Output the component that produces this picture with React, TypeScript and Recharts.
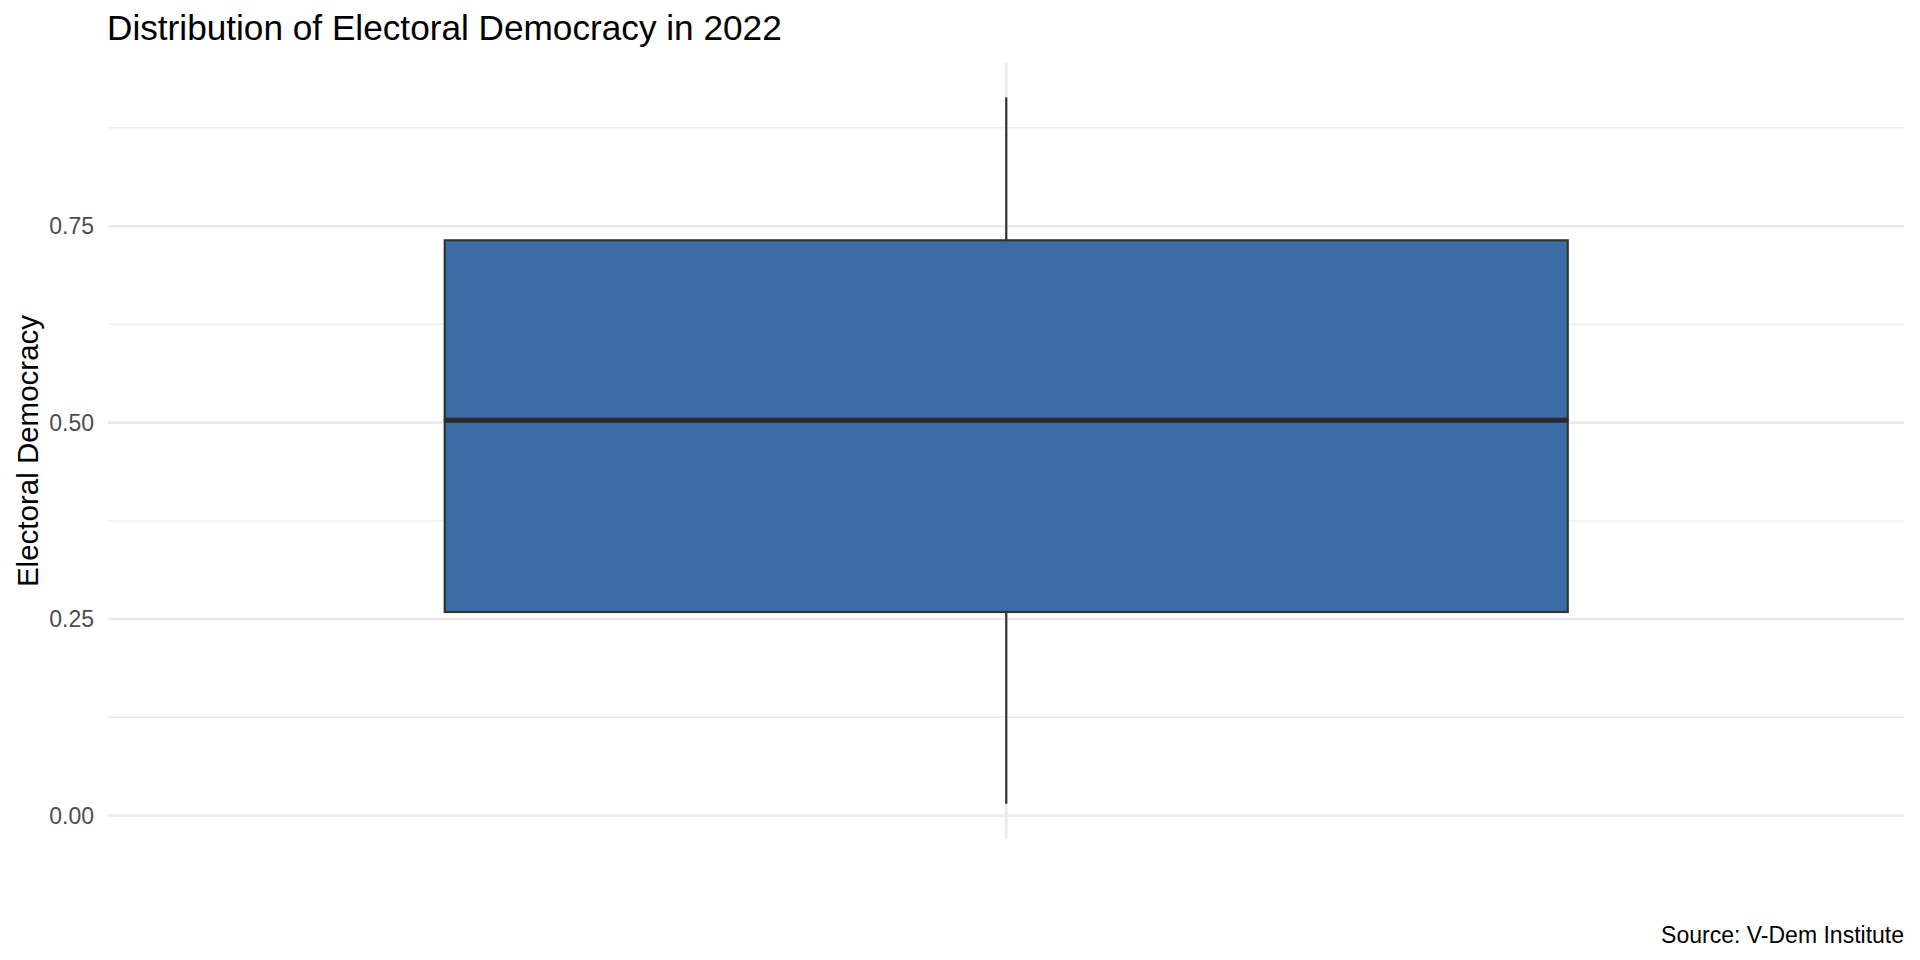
import { Bar, CartesianGrid, ComposedChart, XAxis, YAxis } from "recharts";

// one box, values (the x tick itself is not shown)
const groups = ["2022"];
const whiskerLow = [0.015];
const q1 = [0.259];
const median = [0.503];
const q3 = [0.732];
const whiskerHigh = [0.914];

const majorTicks = [0, 0.25, 0.5, 0.75];
const minorTicks = [0.125, 0.375, 0.625, 0.875];

const COLORS = {
  fill: "#3A6DA5",
  line: "#333333",
  median: "#2b2b2b",
  grid: "#ebebeb",
  tick: "#4d4d4d",
  text: "#000000",
};

const FONT = "'Liberation Sans', Arial, sans-serif";

const data = groups.map((name, i) => ({
  name,
  base: whiskerLow[i],
  lowerWhisker: q1[i] - whiskerLow[i],
  lowerBox: median[i] - q1[i],
  upperBox: q3[i] - median[i],
  upperWhisker: whiskerHigh[i] - q3[i],
}));

// ggplot-style 5% expansion around the whiskers
const lo = Math.min(...whiskerLow);
const hi = Math.max(...whiskerHigh);
const pad = (hi - lo) * 0.05;
const yDomain = [lo - pad, hi + pad];

const Nothing = () => <g />;

// the bar background spans the whole panel height, so it doubles as the x grid line
const XGridLine = (props: any) => {
  const { x, y, width, height } = props;
  const cx = x + width / 2;
  return <line x1={cx} x2={cx} y1={y} y2={y + height} stroke={COLORS.grid} strokeWidth={2.6} />;
};

const Whisker = (props: any) => {
  const { x, y, width, height } = props;
  const cx = x + width / 2;
  return <line x1={cx} x2={cx} y1={y} y2={y + height} stroke={COLORS.line} strokeWidth={2.2} />;
};

const LowerBox = (props: any) => {
  const { x, y, width, height } = props;
  return <rect x={x} y={y} width={width} height={height} fill={COLORS.fill} stroke={COLORS.line} strokeWidth={2.2} />;
};

const UpperBox = (props: any) => {
  const { x, y, width, height } = props;
  return (
    <g>
      <rect x={x} y={y} width={width} height={height} fill={COLORS.fill} stroke={COLORS.line} strokeWidth={2.2} />
      <line x1={x} x2={x + width} y1={y + height} y2={y + height} stroke={COLORS.median} strokeWidth={5} />
    </g>
  );
};

export default function App() {
  return (
    <div style={{ position: "absolute", left: 0, top: 0, width: 1920, height: 960, background: "#fff", fontFamily: FONT }}>
      <svg width={1920} height={960} style={{ position: "absolute", left: 0, top: 0 }}>
        <text x={107} y={40} fontSize={35.2} fill={COLORS.text} fontFamily={FONT}>
          Distribution of Electoral Democracy in 2022
        </text>
        <text
          transform="translate(37.5 451) rotate(-90)"
          textAnchor="middle"
          fontSize={29.5}
          fill={COLORS.text}
          fontFamily={FONT}
        >
          Electoral Democracy
        </text>
        <text x={1904} y={943} textAnchor="end" fontSize={23} fill={COLORS.text} fontFamily={FONT}>
          Source: V-Dem Institute
        </text>
      </svg>
      <div style={{ position: "absolute", left: 0, top: 0 }}>
        <ComposedChart
          width={1920}
          height={960}
          data={data}
          margin={{ top: 62, right: 16, bottom: 0, left: 0 }}
          barCategoryGap="18.75%"
        >
          <CartesianGrid stroke={COLORS.grid} strokeWidth={1.3} vertical={false} horizontalValues={minorTicks} />
          <CartesianGrid stroke={COLORS.grid} strokeWidth={2.6} vertical={false} horizontalValues={majorTicks} />
          <XAxis dataKey="name" height={121} tick={false} tickLine={false} axisLine={false} />
          <YAxis
            type="number"
            width={108}
            domain={yDomain}
            allowDataOverflow
            ticks={majorTicks}
            tickFormatter={(v: number) => v.toFixed(2)}
            tick={{ fontSize: 23, fill: COLORS.tick, fontFamily: FONT }}
            tickSize={0}
            tickMargin={14}
            tickLine={false}
            axisLine={false}
          />
          <Bar dataKey="base" stackId="box" shape={Nothing} background={XGridLine} isAnimationActive={false} />
          <Bar dataKey="lowerWhisker" stackId="box" shape={Whisker} isAnimationActive={false} />
          <Bar dataKey="lowerBox" stackId="box" shape={LowerBox} isAnimationActive={false} />
          <Bar dataKey="upperBox" stackId="box" shape={UpperBox} isAnimationActive={false} />
          <Bar dataKey="upperWhisker" stackId="box" shape={Whisker} isAnimationActive={false} />
        </ComposedChart>
      </div>
    </div>
  );
}
